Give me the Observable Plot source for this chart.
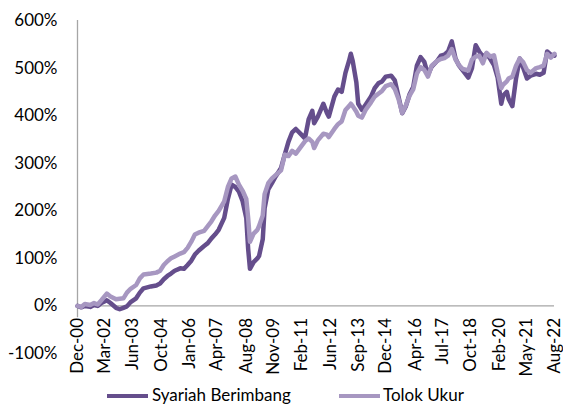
<!DOCTYPE html>
<html>
<head>
<meta charset="utf-8">
<script src="https://cdn.jsdelivr.net/npm/d3@7"></script>
<script src="https://cdn.jsdelivr.net/npm/@observablehq/plot@0.6"></script>
<style>
  body { margin: 0; background: #fff; font-family: Lato, "Open Sans", sans-serif; }
  #chart svg { display: block; }
  #legend { position: relative; width: 563px; height: 19px; font-size: 17px; line-height: 20px; color: #000; }
  #legend .sw { position: absolute; top: 9px; width: 41px; height: 4px; }
  #legend .lb { position: absolute; top: 0; white-space: nowrap; }
</style>
</head>
<body>
<div id="chart"></div>
<div id="legend"></div>
<script>
const dates = [
  "2000-12","2001-02","2001-04","2001-07","2001-09","2001-11","2002-01","2002-04","2002-06","2002-09",
  "2002-11","2003-01","2003-03","2003-05","2003-08","2003-10","2003-12","2004-02","2004-04","2004-07",
  "2004-09","2004-11","2005-01","2005-03","2005-05","2005-08","2005-10","2005-12","2006-02","2006-04",
  "2006-06","2006-09","2006-11","2007-01","2007-03","2007-05","2007-08","2007-10","2007-12","2008-02",
  "2008-04","2008-06","2008-08","2008-09","2008-10","2008-12","2009-02","2009-03","2009-05","2009-06",
  "2009-08","2009-10","2009-12","2010-03","2010-05","2010-07","2010-09","2010-11","2011-02","2011-04",
  "2011-06","2011-08","2011-09","2011-11","2012-02","2012-04","2012-05","2012-08","2012-10","2012-12",
  "2013-02","2013-04","2013-05","2013-06","2013-08","2013-09","2013-11","2014-01","2014-04","2014-06",
  "2014-08","2014-10","2014-12","2015-03","2015-05","2015-07","2015-09","2015-11","2016-01","2016-03",
  "2016-05","2016-07","2016-09","2016-11","2017-01","2017-04","2017-06","2017-08","2017-10","2017-12",
  "2018-02","2018-04","2018-06","2018-09","2018-11","2019-01","2019-03","2019-05","2019-07","2019-09",
  "2019-11","2020-01","2020-03","2020-04","2020-06","2020-07","2020-09","2020-11","2021-01","2021-03",
  "2021-05","2021-07","2021-10","2021-12","2022-02","2022-04","2022-06","2022-08"
];
const syariah = [
  0,-3,0,-2,2,0,6,12,6,-4,
  -7,-4,-1,8,16,28,37,39,41,43,
  47,56,63,68,74,79,78,86,95,108,
  116,126,132,142,150,160,185,225,255,250,
  240,220,185,120,78,92,100,105,140,205,
  245,258,272,290,318,345,365,372,360,352,
  392,410,384,398,425,405,398,440,455,450,
  490,515,530,515,470,425,412,423,440,458,
  468,472,482,484,474,440,405,420,445,460,
  505,523,513,486,503,515,526,528,535,556,
  520,505,495,480,500,548,535,524,530,519,
  506,480,425,442,450,435,420,478,520,500,
  478,484,488,486,490,535,528,526
];
const tolok = [
  0,-2,4,2,6,3,12,26,20,14,
  15,16,28,36,44,58,66,67,68,70,
  74,86,94,100,104,110,113,122,135,150,
  154,158,168,178,190,200,220,250,268,272,
  255,242,225,185,135,152,160,168,190,235,
  258,268,275,285,318,315,326,320,336,346,
  352,345,332,348,362,360,355,372,382,388,
  412,420,425,420,408,400,396,412,428,440,
  446,452,462,466,456,435,406,422,442,455,
  488,502,496,482,505,515,519,521,526,540,
  518,506,498,495,518,524,526,510,532,524,
  527,490,458,465,472,478,482,505,520,512,
  496,490,500,502,505,530,522,530
];
const xTickLabels = ["Dec-00","Mar-02","Jun-03","Oct-04","Jan-06","Apr-07","Aug-08","Nov-09","Feb-11",
  "Jun-12","Sep-13","Dec-14","Apr-16","Jul-17","Oct-18","Feb-20","May-21","Aug-22"];
const yTicks = [-100, 0, 100, 200, 300, 400, 500, 600];
const seriesNames = ["Syariah Berimbang", "Tolok Ukur"];
const colors = ["#654e8c", "#a797c1"];

const parse = d3.utcParse("%Y-%m");
const parseTick = d3.utcParse("%b-%y");
const rows = dates.map((d, i) => ({date: parse(d), s: syariah[i], t: tolok[i]}));
const tickDates = xTickLabels.map(parseTick);

const chart = Plot.plot({
  width: 563,
  height: 385,
  marginLeft: 77,
  marginRight: 9,
  marginTop: 20,
  marginBottom: 32,
  style: {fontFamily: "Lato, 'Open Sans', sans-serif", fontSize: "17px", color: "#000", background: "#fff", overflow: "visible"},
  x: {type: "utc", domain: [tickDates[0], tickDates[tickDates.length - 1]], axis: null},
  y: {domain: [-100, 600], axis: null},
  marks: [
    Plot.axisY({ticks: yTicks, tickSize: 0, tickPadding: 20, tickFormat: d => `${d}%`, label: null, fontSize: 17}),
    Plot.ruleX([tickDates[0]], {y1: -25, y2: 600, stroke: "#a6a6a6", strokeWidth: 1.3}),
    Plot.ruleY([0], {stroke: "#a6a6a6", strokeWidth: 1.3}),
    Plot.line(rows, {x: "date", y: "s", stroke: colors[0], strokeWidth: 4.5, strokeLinejoin: "round", strokeLinecap: "round"}),
    Plot.line(rows, {x: "date", y: "t", stroke: colors[1], strokeWidth: 4.5, strokeLinejoin: "round", strokeLinecap: "round"}),
    Plot.text(tickDates, {x: d => d, y: () => 0, text: (d, i) => xTickLabels[i], rotate: -90, textAnchor: "end", dy: 12, fontSize: 17, fill: "#000"})
  ]
});
document.getElementById("chart").appendChild(chart);

const legend = document.getElementById("legend");
const legendPos = [{sw: 107, lb: 152}, {sw: 339, lb: 383}];
seriesNames.forEach((name, i) => {
  const sw = document.createElement("div");
  sw.className = "sw";
  sw.style.left = legendPos[i].sw + "px";
  sw.style.background = colors[i];
  legend.appendChild(sw);
  const lb = document.createElement("div");
  lb.className = "lb";
  lb.style.left = legendPos[i].lb + "px";
  lb.textContent = name;
  legend.appendChild(lb);
});
</script>
</body>
</html>
